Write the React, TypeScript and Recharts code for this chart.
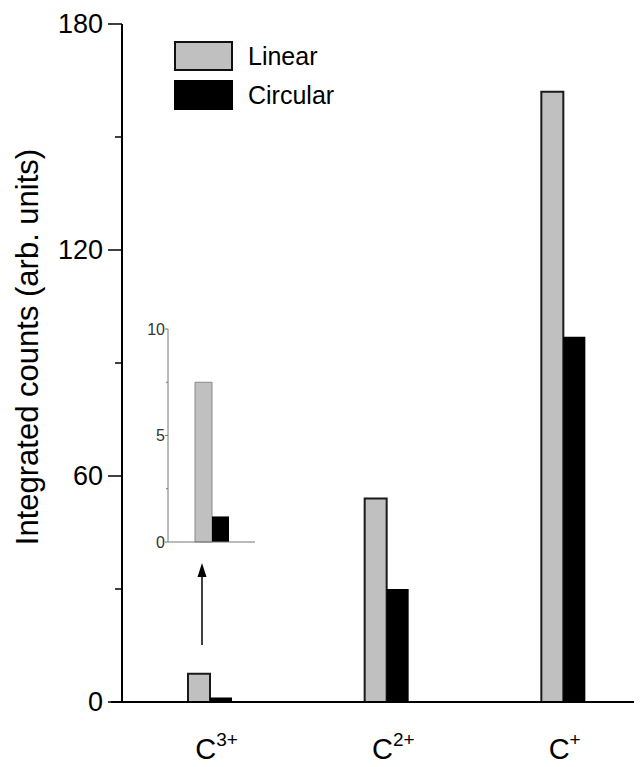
import { BarChart, Bar, XAxis, YAxis } from "recharts";

const categories = ["C3+", "C2+", "C+"];
const chargeLabels = ["3+", "2+", "+"];
const linearCounts = [7.5, 54, 162];
const circularCounts = [1.2, 30, 97];

const yTicks = [0, 30, 60, 90, 120, 150, 180];
const yLabelled = [0, 60, 120, 180];
const insetTicks = [0, 2.5, 5, 7.5, 10];
const insetLabelled = [0, 5, 10];

const data = categories.map((c, i) => ({
  name: c,
  charge: chargeLabels[i],
  linear: linearCounts[i],
  circular: circularCounts[i],
}));

const insetData = [{ name: categories[0], linear: linearCounts[0], circular: circularCounts[0] }];

const FONT = "'Liberation Sans', Arial, Helvetica, sans-serif";
const GREY = "#c0c0c0";

const MainYTick = (props: any) => {
  const { x, y, payload } = props;
  const major = yLabelled.includes(payload.value);
  return (
    <g>
      <line x1={x - (major ? 14 : 7)} x2={x} y1={y} y2={y} stroke="#000" strokeWidth={1.5} />
      {major && (
        <text x={x - 19} y={y} dy="0.35em" textAnchor="end" fontSize={27} fontFamily={FONT} fill="#000">
          {payload.value}
        </text>
      )}
    </g>
  );
};

const MainXTick = (props: any) => {
  const { x, y, payload } = props;
  const charge = chargeLabels[categories.indexOf(payload.value)];
  return (
    <text x={x - 15} y={y + 57} fontFamily={FONT} fill="#000">
      <tspan fontSize={29}>C</tspan>
      <tspan fontSize={19} dy={-13}>{charge}</tspan>
    </text>
  );
};

const InsetYTick = (props: any) => {
  const { x, y, payload } = props;
  const major = insetLabelled.includes(payload.value);
  return (
    <g>
      <line x1={x - (major ? 3 : 2)} x2={x} y1={y} y2={y} stroke="#777" strokeWidth={1} />
      {major && (
        <text x={x - 3} y={y} dy="0.35em" textAnchor="end" fontSize={16} fontFamily={FONT} fill="#333">
          {payload.value}
        </text>
      )}
    </g>
  );
};

const YLabel = (props: any) => {
  const { viewBox } = props;
  const cx = 19;
  const cy = viewBox.y + viewBox.height / 2 - 16;
  return (
    <text
      x={cx}
      y={cy}
      transform={`rotate(-90 ${cx} ${cy})`}
      textAnchor="middle"
      dominantBaseline="central"
      fontSize={31}
      fontFamily={FONT}
      fill="#000"
    >
      Integrated counts (arb. units)
    </text>
  );
};

const legendItems = [
  { label: "Linear", fill: GREY, border: "2px solid #111" },
  { label: "Circular", fill: "#000", border: "2px solid #000" },
];

export default function App() {
  return (
    <div style={{ position: "relative", width: 634, height: 759, overflow: "hidden", background: "#fff" }}>
      <BarChart
        width={660}
        height={759}
        data={data}
        margin={{ top: 16, right: 16, left: 14, bottom: 5 }}
        barGap={0}
        barCategoryGap={0}
      >
        <XAxis
          dataKey="name"
          height={60}
          axisLine={{ stroke: "#000", strokeWidth: 2 }}
          tickLine={false}
          tick={<MainXTick />}
          tickSize={0}
          tickMargin={0}
          interval={0}
        />
        <YAxis
          width={100}
          domain={[0, 180]}
          ticks={yTicks}
          interval={0}
          axisLine={{ stroke: "#000", strokeWidth: 2 }}
          tickLine={false}
          tickSize={0}
          tickMargin={0}
          tick={<MainYTick />}
          label={<YLabel />}
        />
        <Bar dataKey="linear" barSize={22} fill={GREY} stroke="#1a1a1a" strokeWidth={2} isAnimationActive={false} />
        <Bar dataKey="circular" barSize={22} fill="#000" isAnimationActive={false} />
      </BarChart>

      <div style={{ position: "absolute", top: 33, left: 166, fontFamily: FONT, fontSize: 25, color: "#000" }}>
        {legendItems.map((item) => (
          <div key={item.label} style={{ display: "flex", alignItems: "center", height: 30, marginBottom: 9 }}>
            <div style={{ width: 55, height: 26, background: item.fill, border: item.border }} />
            <span style={{ marginLeft: 15 }}>{item.label}</span>
          </div>
        ))}
      </div>

      <div style={{ position: "absolute", left: 120, top: 311 }}>
        <BarChart
          width={129}
          height={233}
          data={insetData}
          margin={{ top: 10, right: 2, left: 0, bottom: 8 }}
          barGap={0}
        >
          <XAxis dataKey="name" height={2} tick={false} tickLine={false} axisLine={{ stroke: "#777" }} />
          <YAxis
            width={40}
            domain={[0, 10]}
            ticks={insetTicks}
            interval={0}
            axisLine={{ stroke: "#777" }}
            tickLine={false}
            tickSize={0}
            tickMargin={0}
            tick={<InsetYTick />}
          />
          <Bar dataKey="linear" barSize={17} fill={GREY} stroke="#888" strokeWidth={1} isAnimationActive={false} />
          <Bar dataKey="circular" barSize={17} fill="#000" isAnimationActive={false} />
        </BarChart>
      </div>

      <svg style={{ position: "absolute", left: 0, top: 0, pointerEvents: "none" }} width={634} height={759}>
        <line x1={194} x2={194} y1={637} y2={568} stroke="#000" strokeWidth={1.5} />
        <polygon points="194,555 189.5,569 198.5,569" fill="#000" />
        <line x1={103} x2={114} y1={694} y2={694} stroke="#000" strokeWidth={2} />
      </svg>
    </div>
  );
}
